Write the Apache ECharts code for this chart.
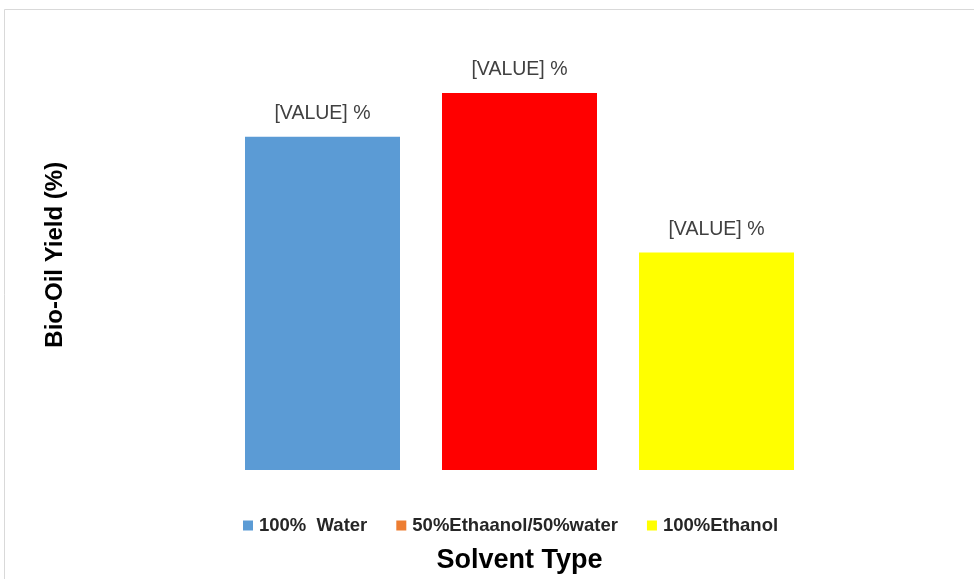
<!DOCTYPE html>
<html>
<head>
<meta charset="utf-8">
<script src="https://cdn.jsdelivr.net/npm/echarts@6/dist/echarts.min.js"></script>
<style>html,body{margin:0;padding:0;background:#fff;}#c{width:974px;height:579px;}</style>
</head>
<body>
<div id="c"></div>
<script>
var categories = ['100%  Water', '50%Ethaanol/50%water', '100%Ethanol'];
var values = [38.0, 43.0, 24.8];
var barColors = ['#5B9BD5', '#FF0000', '#FFFF00'];
var legendColors = ['#5B9BD5', '#ED7D31', '#FFFF00'];
var labelText = '[VALUE] %';

var chart = echarts.init(document.getElementById('c'));
var series = categories.map(function (name, i) {
  var d = categories.map(function (_, j) { return j === i ? values[i] : '-'; });
  return {
    name: name,
    type: 'bar',
    stack: 'all',
    barWidth: 155,
    data: d,
    itemStyle: { color: barColors[i] },
    label: {
      show: true,
      position: 'top',
      distance: 13,
      formatter: labelText,
      fontFamily: 'Liberation Sans',
      fontSize: 19.5,
      color: '#404040'
    }
  };
});
chart.setOption({
  animation: false,
  backgroundColor: '#fff',
  graphic: [{
    type: 'rect',
    x: 4.5, y: 9.5,
    shape: { x: 0, y: 0, width: 1000, height: 1000 },
    style: { fill: 'none', stroke: '#d9d9d9', lineWidth: 1 },
    silent: true
  }],
  grid: { left: 224, right: 159, top: 31.5, bottom: 108 },
  legend: {
    left: 243,
    top: 516,
    padding: 0,
    itemWidth: 10,
    itemHeight: 10,
    itemGap: 29,
    icon: 'rect',
    textStyle: { fontFamily: 'Liberation Sans', fontWeight: 'bold', fontSize: 18.5, color: '#262626', padding: [0, 0, 0, 1] },
    data: categories.map(function (n, i) { return { name: n, itemStyle: { color: legendColors[i] } }; })
  },
  xAxis: {
    type: 'category',
    data: categories,
    axisLine: { show: false },
    axisTick: { show: false },
    axisLabel: { show: false },
    name: 'Solvent Type',
    nameLocation: 'middle',
    nameGap: 77,
    nameTextStyle: { fontFamily: 'Liberation Sans', fontWeight: 'bold', fontSize: 27, color: '#000', verticalAlign: 'top' }
  },
  yAxis: {
    type: 'value',
    min: 0, max: 50,
    axisLine: { show: false },
    axisTick: { show: false },
    axisLabel: { show: false },
    splitLine: { show: false },
    name: 'Bio-Oil Yield (%)',
    nameLocation: 'middle',
    nameGap: 157,
    nameTextStyle: { fontFamily: 'Liberation Sans', fontWeight: 'bold', fontSize: 24, color: '#000', padding: [0, 8, 0, 0] }
  },
  series: series
});
</script>
</body>
</html>
